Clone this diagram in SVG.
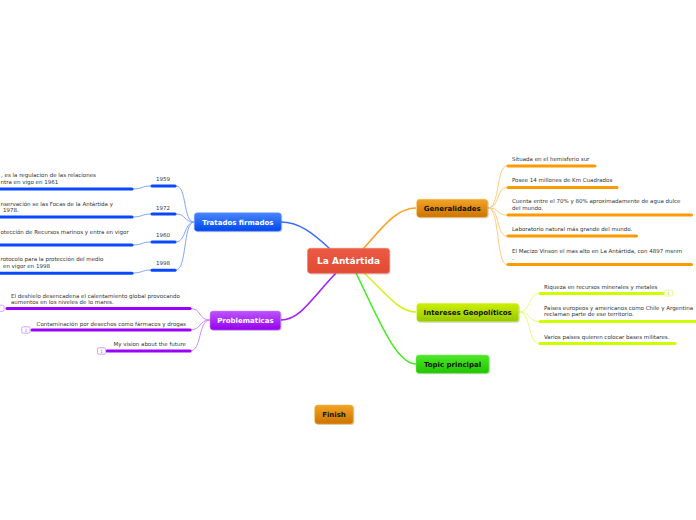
<svg xmlns="http://www.w3.org/2000/svg" width="696" height="520" viewBox="0 0 696 520">
<defs>
<linearGradient id="gBlue" x1="0" y1="0" x2="0" y2="1"><stop offset="0" stop-color="#4a86ff"/><stop offset="1" stop-color="#0046f0"/></linearGradient>
<linearGradient id="gPurple" x1="0" y1="0" x2="0" y2="1"><stop offset="0" stop-color="#bb55ff"/><stop offset="1" stop-color="#9500ee"/></linearGradient>
<linearGradient id="gOrange" x1="0" y1="0" x2="0" y2="1"><stop offset="0" stop-color="#f2a424"/><stop offset="1" stop-color="#cc7400"/></linearGradient>
<linearGradient id="gLime" x1="0" y1="0" x2="0" y2="1"><stop offset="0" stop-color="#ccf000"/><stop offset="1" stop-color="#96c800"/></linearGradient>
<linearGradient id="gGreen" x1="0" y1="0" x2="0" y2="1"><stop offset="0" stop-color="#4ee82a"/><stop offset="1" stop-color="#22c400"/></linearGradient>
<linearGradient id="gRed" x1="0" y1="0" x2="0" y2="1"><stop offset="0" stop-color="#ec5a43"/><stop offset="1" stop-color="#e24a33"/></linearGradient>
</defs>
<style>
.shadow{fill:#000;opacity:0.18}
.nt{font-family:"DejaVu Sans",Verdana,sans-serif;font-weight:bold;font-size:7px;text-anchor:middle}
.w{fill:#fff}
.k{fill:#111}
.lt{font-family:"DejaVu Sans",Verdana,sans-serif;font-size:5.5px;fill:#333}
.yr{font-family:"DejaVu Sans",Verdana,sans-serif;font-size:5.5px;fill:#333;text-anchor:middle}
.end{text-anchor:end}
.bb{stroke:#0a48ff;stroke-width:3;stroke-linecap:round;fill:none}
.bp{stroke:#9a00ff;stroke-width:3;stroke-linecap:round;fill:none}
.bo{stroke:#ff9a00;stroke-width:3;stroke-linecap:round;fill:none}
.by{stroke:#ccff00;stroke-width:3;stroke-linecap:round;fill:none}
.lb{stroke:#7fa6ff;stroke-width:1;fill:none}
.lp{stroke:#cc88ff;stroke-width:1;fill:none}
.lo{stroke:#ffcc80;stroke-width:1;fill:none}
.ly{stroke:#e2ff80;stroke-width:1;fill:none}
.badgeP{fill:#fff;stroke:#cc88ff;stroke-width:0.8}
.badgeY{fill:#fff;stroke:#ddff66;stroke-width:0.8}
.bt{font-family:"DejaVu Sans",sans-serif;font-size:4.5px;text-anchor:middle}
</style>
<rect width="696" height="520" fill="#fff"/>

<g id="connectors">
  <path d="M330,249 C312,232 298,222 281,222" stroke="#3a6cff" stroke-width="1.6" fill="none"/>
  <path d="M363,249 C382,228 396,208 416,208" stroke="#ffa020" stroke-width="1.6" fill="none"/>
  <path d="M336,273 C312,298 300,320 281,320" stroke="#a020ff" stroke-width="1.6" fill="none"/>
  <path d="M364,273 C385,292 398,312 416,312" stroke="#d8f020" stroke-width="1.6" fill="none"/>
  <path d="M356,273 C378,318 396,364 416,364" stroke="#44ee22" stroke-width="1.6" fill="none"/>
  <path class="lb" d="M176,186 C187,186 183,222 194,222"/>
  <path class="lb" d="M176,214 C186,214 184,222 194,222"/>
  <path class="lb" d="M176,242 C186,242 184,222 194,222"/>
  <path class="lb" d="M176,270 C187,270 183,222 194,222"/>
  <path class="lb" d="M133,189 C142,189 142,186 151,186"/>
  <path class="lb" d="M133,217 C142,217 142,214 151,214"/>
  <path class="lb" d="M133,245 C142,245 142,242 151,242"/>
  <path class="lb" d="M133,273 C142,273 142,270 151,270"/>
  <path class="lp" d="M190,308.5 C202,308.5 198,320 210,320"/>
  <path class="lp" d="M190,330 C202,330 198,320 210,320"/>
  <path class="lp" d="M190,351 C202,351 198,320 210,320"/>
  <path class="lo" d="M488,208 C500,208 496,166 507,166"/>
  <path class="lo" d="M488,208 C500,208 496,187.5 507,187.5"/>
  <path class="lo" d="M488,208 C500,208 496,215 507,215"/>
  <path class="lo" d="M488,208 C500,208 496,236 507,236"/>
  <path class="lo" d="M488,208 C500,208 496,264.5 507,264.5"/>
  <path class="ly" d="M519,312 C531,312 528,293.5 539,293.5"/>
  <path class="ly" d="M519,312 C531,312 528,321.5 539,321.5"/>
  <path class="ly" d="M519,312 C531,312 528,343.5 539,343.5"/>
</g>

<g id="center">
  <rect class="shadow" x="308.5" y="249.5" width="82" height="25" rx="3"/>
  <rect x="307.5" y="248.3" width="82" height="25" rx="3" fill="url(#gRed)" stroke="#f27a66" stroke-width="0.6"/>
  <text class="nt w" x="348.5" y="264" style="font-size:9px">La Antártida</text>
</g>

<g id="tratados">
  <rect class="shadow" x="195.3" y="213.7" width="87" height="18.5" rx="3"/>
  <rect x="194.3" y="212.7" width="87" height="18.5" rx="3" fill="url(#gBlue)" stroke="#6f9cff" stroke-width="0.5"/>
  <text class="nt w" x="237.8" y="224.5">Tratados firmados</text>
</g>
<g id="t1959">
  <line class="bb" x1="-2" y1="189" x2="132" y2="189"/>
  <line class="bb" x1="152" y1="186" x2="175" y2="186"/>
  <text class="yr" x="163" y="181">1959</text>
  <text class="lt" x="1" y="177">, es la regulacion de las relaciones</text>
  <text class="lt" x="0.5" y="183.5">ntra en vigo en 1961</text>
</g>
<g id="t1972">
  <line class="bb" x1="-2" y1="217" x2="132" y2="217"/>
  <line class="bb" x1="152" y1="214" x2="175" y2="214"/>
  <text class="yr" x="163" y="209.5">1972</text>
  <text class="lt" x="0.5" y="205.5">nservación se las Focas de la Antártida y</text>
  <text class="lt" x="3" y="212">1978.</text>
</g>
<g id="t1960">
  <line class="bb" x1="-2" y1="245" x2="132" y2="245"/>
  <line class="bb" x1="152" y1="242" x2="175" y2="242"/>
  <text class="yr" x="163" y="237">1960</text>
  <text class="lt" x="0.5" y="233.5">otección de Recursos marinos y entra en vigor</text>
</g>
<g id="t1998">
  <line class="bb" x1="-2" y1="273.3" x2="132" y2="273.3"/>
  <line class="bb" x1="152" y1="270.3" x2="175" y2="270.3"/>
  <text class="yr" x="163" y="265">1998</text>
  <text class="lt" x="0.5" y="261">rotocolo para la protección del medio</text>
  <text class="lt" x="3" y="267.5">en vigor en 1998</text>
</g>

<g id="problematicas">
  <rect class="shadow" x="211" y="312" width="70.7" height="19" rx="3"/>
  <rect x="210" y="311" width="70.7" height="19" rx="3" fill="url(#gPurple)" stroke="#cc88ff" stroke-width="0.5"/>
  <text class="nt w" x="245.4" y="323">Problematicas</text>
</g>
<g id="p1">
  <line class="bp" x1="7" y1="308.5" x2="190" y2="308.5"/>
  <rect class="badgeP" x="-5" y="305.2" width="9" height="6.2" rx="1.5"/>
  <text class="lt" x="11" y="297.5">El deshielo desencadena el calentamiento global provocando</text>
  <text class="lt" x="11" y="303.5">aumentos en los niveles de lo mares.</text>
</g>
<g id="p2">
  <line class="bp" x1="32" y1="330" x2="190" y2="330"/>
  <rect class="badgeP" x="21.7" y="326.8" width="8.3" height="6.4" rx="1.5"/>
  <text class="bt" x="25.9" y="331.6" fill="#aa55ee">1</text>
  <text class="lt end" x="186" y="326">Contaminación por desechos como fármacos y drogas</text>
</g>
<g id="p3">
  <line class="bp" x1="107" y1="351" x2="190" y2="351"/>
  <rect class="badgeP" x="97.4" y="347.8" width="8.3" height="6.4" rx="1.5"/>
  <text class="bt" x="101.6" y="352.6" fill="#aa55ee">1</text>
  <text class="lt end" x="186" y="346">My vision about the future</text>
</g>

<g id="generalidades">
  <rect class="shadow" x="417.7" y="200.3" width="71" height="18" rx="3"/>
  <rect x="416.7" y="199.3" width="71" height="18" rx="3" fill="url(#gOrange)" stroke="#f5b84a" stroke-width="0.5"/>
  <text class="nt k" x="452.2" y="210.8">Generalidades</text>
</g>
<g id="g1">
  <line class="bo" x1="508" y1="166" x2="595" y2="166"/>
  <text class="lt" x="512" y="161">Situada en el hemisferio sur</text>
</g>
<g id="g2">
  <line class="bo" x1="508" y1="187.5" x2="617" y2="187.5"/>
  <text class="lt" x="512" y="182">Posee 14 millones de Km Cuadrados</text>
</g>
<g id="g3">
  <line class="bo" x1="508" y1="215" x2="691.5" y2="215"/>
  <text class="lt" x="512" y="203">Cuenta entre el 70% y 80% aproximadamente de agua dulce</text>
  <text class="lt" x="512" y="209.5">del mundo.</text>
</g>
<g id="g4">
  <line class="bo" x1="508" y1="236" x2="636.5" y2="236"/>
  <text class="lt" x="512" y="231">Laboratorio natural más grande del mundo.</text>
</g>
<g id="g5">
  <line class="bo" x1="508" y1="264.5" x2="691.5" y2="264.5"/>
  <text class="lt" x="512" y="253">El Macizo Vinson el mas alto en La Antártida, con 4897 msnm</text>
  <text class="lt" x="512" y="259.5">.</text>
</g>

<g id="intereses">
  <rect class="shadow" x="417.7" y="304.3" width="102" height="18.4" rx="3"/>
  <rect x="416.7" y="303.3" width="102" height="18.4" rx="3" fill="url(#gLime)" stroke="#ddf566" stroke-width="0.5"/>
  <text class="nt k" x="467.7" y="315">Intereses Geopolíticos</text>
</g>
<g id="i1">
  <line class="by" x1="540" y1="293.5" x2="663" y2="293.5"/>
  <rect class="badgeY" x="664.3" y="290.2" width="8.4" height="5.8" rx="1.5"/>
  <text class="bt" x="668.5" y="294.6" fill="#aacc33">1</text>
  <text class="lt" x="544" y="288.5">Riqueza en recursos minerales y metales</text>
</g>
<g id="i2">
  <line class="by" x1="540" y1="321.5" x2="698" y2="321.5"/>
  <text class="lt" x="544" y="310">Paises europeos y americanos como Chile y Argentina</text>
  <text class="lt" x="544" y="316">reclaman parte de ese territorio.</text>
</g>
<g id="i3">
  <line class="by" x1="540" y1="343.5" x2="675" y2="343.5"/>
  <text class="lt" x="544" y="338.5">Varios paises quieren colocar bases militares.</text>
</g>

<g id="topic">
  <rect class="shadow" x="417" y="356" width="73" height="18.3" rx="3"/>
  <rect x="416" y="355" width="73" height="18.3" rx="3" fill="url(#gGreen)" stroke="#7af060" stroke-width="0.5"/>
  <text class="nt k" x="452.5" y="366.5">Topic principal</text>
</g>

<g id="finish">
  <rect class="shadow" x="315.7" y="406" width="38.6" height="19" rx="3"/>
  <rect x="314.7" y="405" width="38.6" height="19" rx="3" fill="url(#gOrange)" stroke="#f5b84a" stroke-width="0.5"/>
  <text class="nt k" x="334" y="416.8">Finish</text>
</g>
</svg>
